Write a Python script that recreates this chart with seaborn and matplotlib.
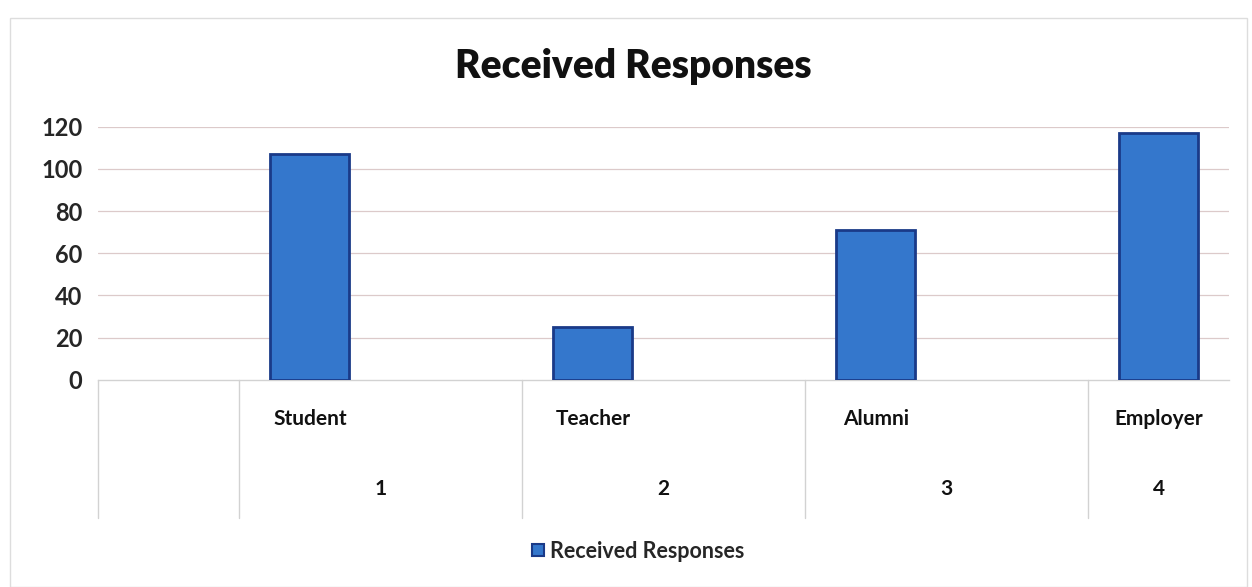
import matplotlib
matplotlib.use("Agg")
import matplotlib.pyplot as plt
import seaborn as sns
import pandas as pd
from matplotlib.patches import Rectangle
from matplotlib.lines import Line2D

# values
groups = ["Student", "Teacher", "Alumni", "Employer"]
group_nums = ["1", "2", "3", "4"]
responses = [107, 25, 71, 117]
y_ticks = [0, 20, 40, 60, 80, 100, 120]
title = "Received Responses"

BAR = "#3477cc"
EDGE = "#1a3a88"
GRID = "#dccaca"
LINE = "#d2d2d2"

def main():
    sns.set_theme(style="white")
    plt.rcParams["font.family"] = ["Lato", "DejaVu Sans"]

    df = pd.DataFrame({"group": groups, "responses": responses})

    fig = plt.figure(figsize=(12.52, 5.87), dpi=100)
    ax = fig.add_axes([0.078, 0.353, 0.904, 0.431])

    sns.barplot(data=df, x="group", y="responses", order=groups, color=BAR,
                width=0.28, edgecolor=EDGE, linewidth=2, saturation=1, ax=ax, zorder=3)

    ax.set_xlim(-0.75, 3.25)
    ax.set_ylim(0, 120)
    ax.set_yticks(y_ticks)
    ax.set_yticklabels([str(t) for t in y_ticks], fontsize=17, fontweight="bold")
    ax.tick_params(axis="y", length=0, pad=11)
    ax.set_xticks([])
    ax.set_xlabel("")
    ax.set_ylabel("")
    for t in y_ticks[1:]:
        ax.axhline(t, color=GRID, lw=0.9, zorder=1)
    for s in ["top", "right", "left"]:
        ax.spines[s].set_visible(False)
    ax.spines["bottom"].set_color(LINE)
    ax.spines["bottom"].set_linewidth(1.0)

    # two-level category table under the axis
    tr = ax.get_xaxis_transform()
    bottom = -0.545
    for xb in [-0.75, -0.25, 0.75, 1.75, 2.75]:
        ax.plot([xb, xb], [0, bottom], color=LINE, lw=1.0, transform=tr, clip_on=False)
    for i, (g, n) in enumerate(zip(groups, group_nums)):
        ax.text(i, -0.155, g, transform=tr, ha="center", va="center",
                fontsize=15, fontweight="bold", color="#111111")
        right = min(i + 0.75, 3.25)
        ax.text((i - 0.25 + right) / 2, -0.43, n, transform=tr, ha="center", va="center",
                fontsize=15, fontweight="bold", color="#111111")

    fig.text(0.506, 0.886, title, ha="center", va="center", fontsize=28, fontweight="heavy",
             color="#111111")

    handle = Line2D([], [], marker="s", linestyle="none", markersize=9,
                    markerfacecolor=BAR, markeredgecolor=EDGE, markeredgewidth=1.5)
    fig.legend([handle], [title], loc="center", bbox_to_anchor=(0.507, 0.061), frameon=False,
               handletextpad=0.0, handlelength=1.2, prop={"size": 15.5, "weight": "bold"})

    # faint outer chart border
    fig.patches.append(Rectangle((0.008, 0.0), 0.988, 0.97, transform=fig.transFigure,
                                 fill=False, edgecolor="#dddddd", lw=1.0))

    fig.savefig("out.png", dpi=100, facecolor="white")

if __name__ == "__main__":
    main()
